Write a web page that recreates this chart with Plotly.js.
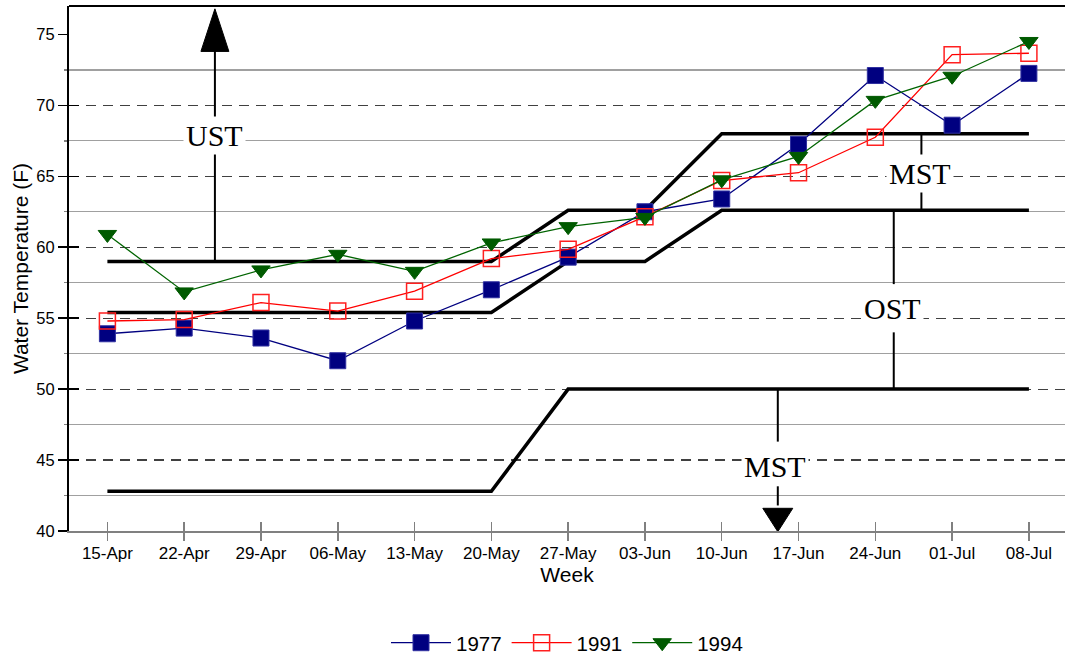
<!DOCTYPE html>
<html>
<head>
<meta charset="utf-8">
<script src="https://cdn.plot.ly/plotly-3.0.1.min.js"></script>
<style>
  html, body { margin: 0; padding: 0; background: #fff; }
  #chart { width: 1065px; height: 656px; }
</style>
</head>
<body>
<div id="chart"></div>
<script>
// ---- Data ----
var weeks = ['15-Apr','22-Apr','29-Apr','06-May','13-May','20-May','27-May','03-Jun','10-Jun','17-Jun','24-Jun','01-Jul','08-Jul'];
var temp1977 = [53.9, 54.3, 53.6, 52.0, 54.8, 57.0, 59.3, 62.5, 63.4, 67.25, 72.1, 68.6, 72.25];
var temp1991 = [54.8, 54.9, 56.1, 55.5, 56.9, 59.2, 59.85, 62.15, 64.7, 65.25, 67.75, 73.57, 73.67];
var temp1994 = [60.9, 56.85, 58.4, 59.5, 58.3, 60.3, 61.45, 62.1, 64.75, 66.4, 70.35, 72.05, 74.5];
// Criteria lines
var upperCriterion  = [59, 59, 59, 59, 59, 59, 62.6, 62.6, 68, 68, 68, 68, 68];
var middleCriterion = [55.4, 55.4, 55.4, 55.4, 55.4, 55.4, 59, 59, 62.6, 62.6, 62.6, 62.6, 62.6];
var lowerCriterion  = [42.8, 42.8, 42.8, 42.8, 42.8, 42.8, 50, 50, 50, 50, 50, 50, 50];
var yTicks = [40, 45, 50, 55, 60, 65, 70, 75];
var yMinor = [42.5, 47.5, 52.5, 57.5, 62.5, 67.5, 72.5];
var yDashed = [45, 50, 55, 60, 65, 70];

var xRange = [-0.5, 12.47];
var yRange = [40, 77];

function critTrace(vals) {
  return { x: weeks, y: vals, type: 'scatter', mode: 'lines',
           line: { color: '#000', width: 3.5 }, showlegend: false, hoverinfo: 'skip' };
}

var traces = [
  critTrace(upperCriterion),
  critTrace(middleCriterion),
  critTrace(lowerCriterion),
  { x: weeks, y: temp1977, name: '1977', type: 'scatter', mode: 'lines+markers',
    line: { color: '#000080', width: 1.3 },
    marker: { symbol: 'square', size: 16, color: '#000080', line: { color: '#3030a0', width: 1 } } },
  { x: weeks, y: temp1991, name: '1991', type: 'scatter', mode: 'lines+markers',
    line: { color: '#ff0000', width: 1.3 },
    marker: { symbol: 'square-open', size: 16, color: '#ff2020', line: { width: 1.5 } } },
  { x: weeks, y: temp1994, name: '1994', type: 'scatter', mode: 'lines+markers',
    line: { color: '#006400', width: 1.3 },
    marker: { symbol: 'triangle-down', size: 16, color: '#005a00', line: { color: '#005a00', width: 1 } } }
];

function vseg(x, y0, y1) {
  return { type: 'line', xref: 'x', yref: 'y', x0: x, x1: x, y0: y0, y1: y1,
           line: { color: '#000', width: 2 }, layer: 'above' };
}
function tri(x, tip, base, hw) {
  return { type: 'path', xref: 'x', yref: 'y',
           path: 'M' + (x - hw) + ',' + base + ' L' + (x + hw) + ',' + base + ' L' + x + ',' + tip + ' Z',
           fillcolor: '#000', line: { color: '#000', width: 1 }, layer: 'above' };
}

var shapes = [
  // frame top
  { type: 'line', xref: 'paper', yref: 'paper', x0: 0, x1: 1, y0: 1, y1: 1, line: { color: '#000', width: 2 } },
  // UST arrow
  vseg(1.40, 59, 66.6), vseg(1.40, 69.1, 74.0), tri(1.40, 76.8, 73.8, 0.182),
  // MST (upper)
  vseg(10.60, 68, 66.35), vseg(10.60, 64.0, 62.6),
  // OST
  vseg(10.24, 62.6, 57.4), vseg(10.24, 54.0, 50),
  // MST (lower) arrow
  vseg(8.73, 50, 46.3), vseg(8.73, 43.15, 41.8), tri(8.73, 39.95, 41.6, 0.195)
];

var annFont = { family: 'Liberation Serif, Times New Roman, serif', size: 30, color: '#000' };
function lab(t, x, y) {
  return { text: t, x: x, y: y, xref: 'x', yref: 'y', showarrow: false, font: annFont,
           bgcolor: '#fff', borderpad: 2, xanchor: 'center', yanchor: 'middle' };
}
var annotations = [
  lab('UST', 1.40, 67.9),
  lab('MST', 10.58, 65.2),
  lab('OST', 10.23, 55.7),
  lab('MST', 8.69, 44.55)
];

var fam = 'Liberation Sans, Arial, sans-serif';

var layout = {
  width: 1065, height: 656,
  margin: { l: 69, r: 0, t: 6, b: 125, autoexpand: false },
  paper_bgcolor: '#fff', plot_bgcolor: '#fff',
  font: { family: fam, size: 16, color: '#000' },
  showlegend: true,
  legend: { orientation: 'h', x: 0.5, xanchor: 'center', yref: 'container', y: 0.02, yanchor: 'middle',
            font: { size: 20.5, family: fam }, traceorder: 'normal', itemwidth: 60 },
  xaxis: {
    type: 'category', range: xRange, autorange: false, automargin: false,
    showline: true, linecolor: '#808080', linewidth: 2,
    ticks: 'outside', ticklen: 8, tickcolor: '#808080', tickwidth: 1.5,
    ticklabelstandoff: -2,
    showgrid: false, zeroline: false,
    tickfont: { size: 17 },
    title: { text: 'Week', font: { size: 21 }, standoff: 2 }
  },
  xaxis2: {
    type: 'linear', overlaying: 'x', anchor: 'y', range: xRange, autorange: false,
    tickmode: 'array', tickvals: [0,1,2,3,4,5,6,7,8,9,10,11,12],
    ticks: 'inside', ticklen: 9, tickcolor: '#808080', tickwidth: 1.5,
    showticklabels: false, showgrid: false, zeroline: false, showline: false
  },
  yaxis: {
    range: yRange, autorange: false, automargin: false,
    tickmode: 'array', tickvals: yTicks,
    showline: true, linecolor: '#000', linewidth: 2,
    ticks: 'outside', ticklen: 9, tickcolor: '#000', tickwidth: 1.5,
    showgrid: false, zeroline: false,
    tickfont: { size: 16.5 },
    minor: { tickmode: 'array', tickvals: yMinor, ticklen: 3, tickcolor: '#808080',
             showgrid: true, gridcolor: '#a0a0a0', gridwidth: 1.3 },
    title: { text: 'Water Temperature (F)', font: { size: 21 }, standoff: 2 }
  },
  yaxis2: {
    overlaying: 'y', anchor: 'x', side: 'left', range: yRange, autorange: false,
    tickmode: 'array', tickvals: yDashed,
    ticks: 'inside', ticklen: 10, tickcolor: '#000', tickwidth: 1.5,
    showticklabels: false, zeroline: false, showline: false,
    showgrid: true, gridcolor: '#404040', gridwidth: 1.2, griddash: '10px,7px',
    minor: { tickmode: 'array', tickvals: [40, 75], ticklen: 10, tickcolor: '#000', tickwidth: 1.5, showgrid: false }
  },
  shapes: shapes,
  annotations: annotations
};

// invisible helper trace to make the overlay axes exist
traces.unshift({ x: [null], y: [null], xaxis: 'x2', yaxis: 'y2', type: 'scatter', mode: 'markers',
                 showlegend: false, hoverinfo: 'skip' });

Plotly.newPlot('chart', traces, layout, { displayModeBar: false, staticPlot: true });
</script>
</body>
</html>
